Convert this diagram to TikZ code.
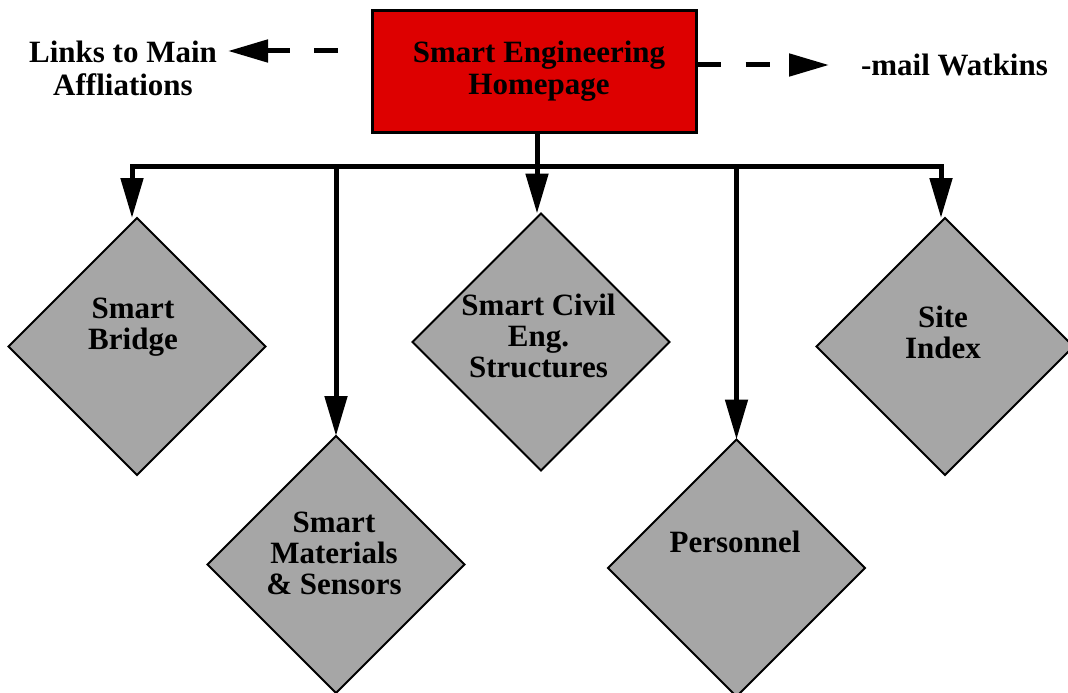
\documentclass[tikz,border=0pt]{standalone}
\usepackage{fontspec}
\setmainfont{Liberation Serif}
\usetikzlibrary{arrows.meta,shapes.geometric}
\definecolor{boxred}{HTML}{DD0000}
\definecolor{diagrey}{HTML}{A6A6A6}
\newcommand\stk[1]{\begin{tabular}[t]{@{}c@{}}#1\end{tabular}}
\begin{document}
\begin{tikzpicture}[x=1pt,y=-1pt,
  every node/.style={font=\fontsize{31}{31}\selectfont\bfseries, inner sep=0pt, outer sep=0pt},
  homebox/.style={draw=black, line width=3pt, fill=boxred, minimum width=324pt, minimum height=121pt},
  diabox/.style={diamond, aspect=1, draw=black, line width=2pt, fill=diagrey, minimum width=257pt, minimum height=257pt},
  lbl/.style={anchor=base, align=center},
  link/.style={line width=5pt, -{Triangle[length=40pt,width=22pt]}},
  twolink/.style={line width=5pt, {Triangle[length=40pt,width=22pt]}-{Triangle[length=40pt,width=22pt]}},
  dashlink/.style={line width=5pt, dash pattern=on 24pt off 24.5pt, -{Triangle[length=40pt,width=22pt]}}
]
\useasboundingbox (0,0) rectangle (1068,693);

% main box
\node[homebox] (home) at (534,71.5) {};
\node[lbl] (title) at (539,63) {\stk{Smart Engineering\\[1pt]Homepage}};

% diamonds
\node[diabox] (bridge) at (137,346.5) {};
\node[diabox] (materials) at (336,564.5) {};
\node[diabox] (civil) at (541,342) {};
\node[diabox] (personnel) at (736.5,568) {};
\node[diabox] (site) at (945,346.5) {};

% diamond labels
\node[lbl] (tbridge) at (133,318) {\stk{Smart\\Bridge}};
\node[lbl] (tmat) at (334,532) {\stk{Smart\\Materials\\\& Sensors}};
\node[lbl] (tcivil) at (538.5,315) {\stk{Smart Civil\\Eng.\\Structures}};
\node[lbl] (tpers) at (735,552) {Personnel};
\node[lbl] (tsite) at (943,327) {\stk{Site\\Index}};

% side labels
\node[lbl] (links) at (123,63) {\stk{Links to Main\\[1pt]Affliations}};
\node[anchor=base west] (watkins) at (861,76) {-mail Watkins};

% bus
\coordinate (bus) at (537,166);
\coordinate (busL) at (132,166);
\coordinate (busR) at (941,166);
\draw[link] (bus |- home.south) -- (bus |- civil.north);
\draw[twolink] (busL |- bridge.north) -- (busL) -- (busR) -- (busR |- site.north);
\draw[link] (materials.north |- bus) -- (materials.north);
\draw[link] (personnel.north |- bus) -- (personnel.north);

% dashed links
\coordinate (lstart) at (338,51);
\coordinate (lend) at (228,51);
\coordinate (rstart) at (697,65);
\coordinate (rend) at (829,65);
\draw[dashlink] (lstart) -- (lend);
\draw[dashlink] (rstart) -- (rend);
\end{tikzpicture}
\end{document}
